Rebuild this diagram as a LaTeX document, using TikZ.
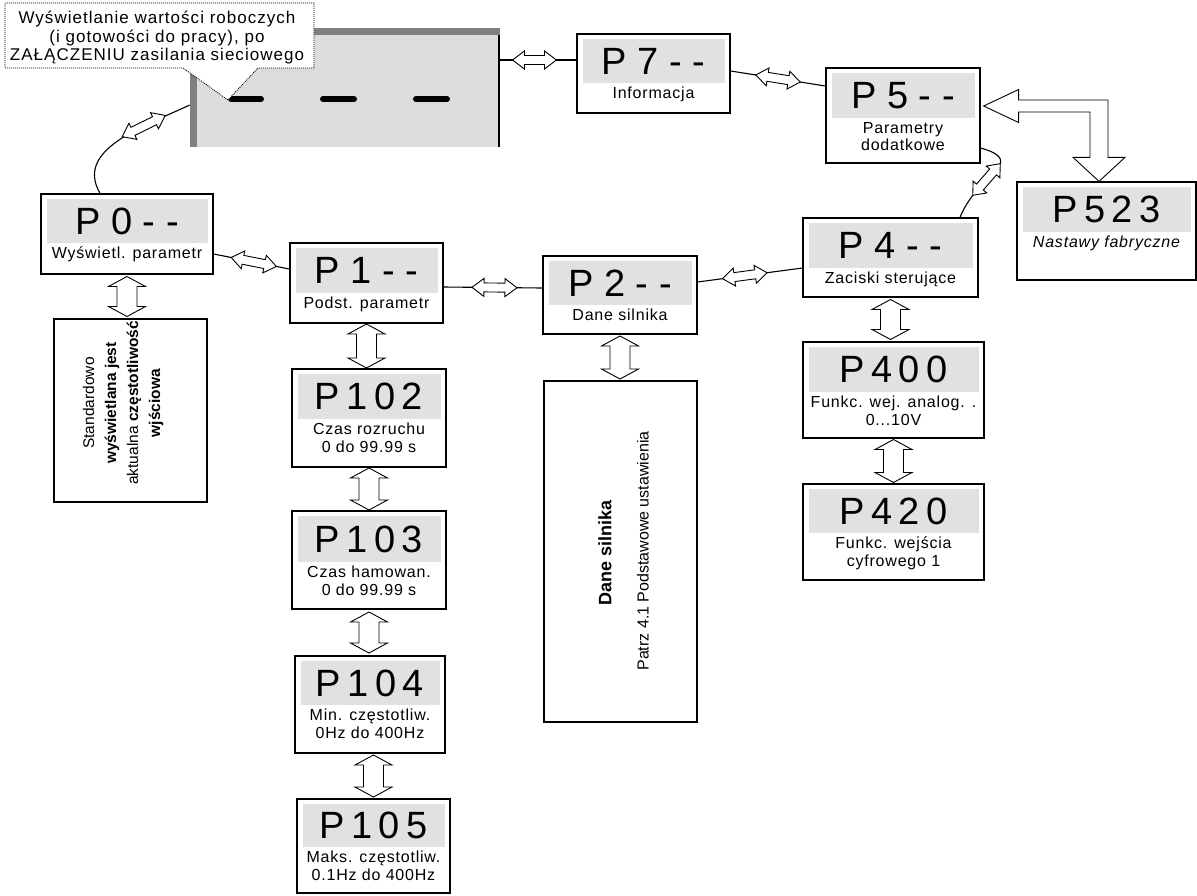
\documentclass[tikz,border=0pt]{standalone}
\usepackage{fontspec}
\setmainfont{Liberation Sans}
\newfontfamily\lsfont[LetterSpace=5]{Liberation Sans}
\newfontfamily\clfont[LetterSpace=6]{Liberation Sans}
\newfontfamily\bigA{Liberation Sans}
\newfontfamily\bigB[LetterSpace=17]{Liberation Sans}
\usetikzlibrary{calc,fit}
\definecolor{lg}{HTML}{E1E1E1}
\definecolor{dispg}{HTML}{DCDCDC}
\definecolor{dg}{HTML}{808080}
\tikzset{
 box/.style={draw, line width=1.3pt, inner sep=0pt},
 conn/.style={line width=1.1pt},
 lab/.style={font=\lsfont\fontsize{16}{17.5}\selectfont, align=center, inner sep=0pt},
 bigt/.style={font=\bigA\fontsize{38}{40}\selectfont, inner sep=0pt},
 pics/dbl/.style args={#1/#2/#3/#4}{code={
   \draw[line width=0.9pt, fill=white] (-#1/2,0) -- (-#1/2+#4,#3) -- (-#1/2+#4,#2) -- (#1/2-#4,#2) -- (#1/2-#4,#3) -- (#1/2,0) -- (#1/2-#4,-#3) -- (#1/2-#4,-#2) -- (-#1/2+#4,-#2) -- (-#1/2+#4,-#3) -- cycle;
 }},
}
\newcommand\pbox[8]{%
 \node[box, fit={(#2,#3) (#4,#5)}] (#1) {};
 \fill[lg] ({#2+5.5},{#3+5}) rectangle ({#4-5.5},#6);
 \node[bigt] (#1big) at ({(#2+#4)/2},{(#3+5+#6)/2}) {#7};
 \node[lab, anchor=north] (#1lab) at ({(#2+#4)/2},{#6+4}) {#8};}
\begin{document}
\begin{tikzpicture}[x=1pt,y=-1pt]
\useasboundingbox (0,0) rectangle (1197,895);
% display box
\node[inner sep=0pt, fit={(190,28) (500,147)}] (disp) {};
\fill[dispg] (190,28) rectangle (500,147);
\fill[dg] (190,28) rectangle (500,35);
\fill[dg] (190,28) rectangle (197,147);
\draw[line width=2.5pt] (499,35) -- (499,147);
\draw[line width=6pt, line cap=round] (231,99) -- (261,99);
\draw[line width=6pt, line cap=round] (323,99) -- (354,99);
\draw[line width=6pt, line cap=round] (416,99) -- (447,99);
% callout
\draw[dash pattern=on 1pt off 1pt, line width=0.8pt, fill=white] (5,3) -- (314,3) -- (314,68) -- (258,68) -- (228,100) -- (183,68) -- (5,68) -- cycle;
\node[font=\clfont\fontsize{17}{18.5}\selectfont, align=center, inner sep=0pt] (ct) at (157,38) {Wyświetlanie wartości roboczych\\(i gotowości do pracy), po\\ZAŁĄCZENIU zasilania sieciowego};
% boxes
\pbox{p7}{577}{34}{730}{113}{83}{P 7 - -}{Informacja}
\pbox{p5}{826}{68}{980}{163}{118}{P 5 - -}{Parametry\\dodatkowe}
\pbox{p523}{1017}{182}{1196}{280}{232}{\bigB P523}{\itshape Nastawy fabryczne}
\pbox{p0}{41}{194}{213}{274}{243}{P 0 - -}{Wyświetl. parametr}
\pbox{p1}{290}{243}{443}{323}{293}{P 1 - -}{Podst. parametr}
\pbox{p2}{543}{256}{697}{334}{305}{P 2 - -}{Dane silnika}
\pbox{p4}{803}{218}{978}{297}{268}{P 4 - -}{Zaciski sterujące}
\pbox{p400}{803}{342}{984}{438}{392}{\bigB P400}{Funkc. wej. analog. .\\0...10V}
\pbox{p420}{803}{484}{984}{580}{533}{\bigB P420}{Funkc. wejścia\\cyfrowego 1}
\pbox{p102}{292}{369}{446}{467}{419}{\bigB P102}{Czas rozruchu\\0 do 99.99 s}
\pbox{p103}{292}{511}{446}{609}{562}{\bigB P103}{Czas hamowan.\\0 do 99.99 s}
\pbox{p104}{295}{656}{445}{753}{705}{\bigB P104}{Min. częstotliw.\\0Hz do 400Hz}
\pbox{p105}{297}{799}{450}{893}{847}{\bigB P105}{Maks. częstotliw.\\0.1Hz do 400Hz}
% text boxes
\node[box, fit={(54,319) (207,502)}] (std) {};
\node[rotate=90, align=center, font=\fontsize{15.5}{22}\selectfont, inner sep=0pt] (stdt) at (123,403) {Standardowo\\\textbf{wyświetlana jest}\\aktualna \textbf{częstotliwość}\\\textbf{wjściowa}};
\node[box, fit={(544,381) (697,722)}] (tall) {};
\node[rotate=90, font=\bfseries\fontsize{18}{20}\selectfont, inner sep=0pt] (tallt1) at (605,553) {Dane silnika};
\node[rotate=90, font=\fontsize{16}{18}\selectfont, inner sep=0pt] (tallt2) at (643,551) {Patrz 4.1 Podstawowe ustawienia};
% connectors
\draw[conn] ([yshift=27.5pt]disp.east) -- ([yshift=13.5pt]p7.west);
\path ([yshift=27.5pt]disp.east) -- ([yshift=13.5pt]p7.west) pic[pos=.45,sloped]{dbl=44/4.5/9/12};
\draw[conn] ([yshift=2.5pt]p7.east) -- ([yshift=29.5pt]p5.west);
\path ([yshift=2.5pt]p7.east) -- ([yshift=29.5pt]p5.west) pic[pos=.5,sloped]{dbl=45/4.5/9/12};
\draw[conn] ([yshift=-20pt]p0.east) -- ([yshift=14pt]p1.west);
\path ([yshift=-20pt]p0.east) -- ([yshift=14pt]p1.west) pic[pos=.53,sloped]{dbl=46/4.5/9/12};
\draw[conn] ([yshift=-4pt]p1.east) -- ([yshift=7pt]p2.west);
\path ([yshift=-4pt]p1.east) -- ([yshift=7pt]p2.west) pic[pos=.515,sloped]{dbl=45/4.5/9/12};
\draw[conn] ([yshift=13pt]p2.east) -- ([yshift=-10.5pt]p4.west);
\path ([yshift=13pt]p2.east) -- ([yshift=-10.5pt]p4.west) pic[pos=.45,sloped]{dbl=45/4.5/9/12};
% display to P0 curve
\draw[conn] ([yshift=-17.5pt]disp.west) .. controls (140,128) and (75,150) .. ([xshift=-27pt]p0.north);
\path ([yshift=-17.5pt]disp.west) .. controls (140,128) and (75,150) .. ([xshift=-27pt]p0.north) pic[pos=.3,sloped]{dbl=48/4.5/9/12};
% P5 to P4
\coordinate (w1) at (1000,164);
\coordinate (w2) at (973,195);
\draw[conn] ([yshift=-32.5pt]p5.east) .. controls (995,152) and (1003,157) .. (w1) -- (w2) .. controls (967,203) and (963,210) .. ([xshift=69.5pt]p4.north);
\path (w1) -- (w2) pic[pos=.5,sloped]{dbl=42/4.5/9/11};
% big L arrow P5 - P523
\coordinate (a1) at ($(p5.east)+(3,-9.5)$);
\coordinate (a2) at ($(p523.north)+(-7.5,0)$);
\draw[line width=0.9pt, fill=white] (a1) -- ++(35,-16.5) -- ++(0,10.5) -- ($(a2|-a1)+(9,-6)$) -- ($(a2)+(9,-24)$) -- ++(17,0) -- (a2) -- ++(-26,-24) -- ++(17,0) -- ($(a2|-a1)+(-9,6)$) -- ($(a1)+(35,6)$) -- ++(0,10.5) -- cycle;
% vertical arrows
\path (p0.south) -- (p0.south |- std.north) pic[pos=.5,sloped]{dbl=40/10/18.5/10};
\path (p1.south) -- (p1.south |- p102.north) pic[pos=.5,sloped]{dbl=44/10/18.5/10};
\path (p102.south) -- (p102.south |- p103.north) pic[pos=.5,sloped]{dbl=42/10/18.5/10};
\path (p103.south) -- (p103.south |- p104.north) pic[pos=.5,sloped]{dbl=41/10/18.5/10};
\path (p105.north |- p104.south) -- (p105.north) pic[pos=.5,sloped]{dbl=42/10/18.5/10};
\path (p2.south) -- (p2.south |- tall.north) pic[pos=.5,sloped]{dbl=43/10/18.5/10};
\path (p4.south) -- (p4.south |- p400.north) pic[pos=.5,sloped]{dbl=40/10/18.5/10};
\path (p400.south) -- (p400.south |- p420.north) pic[pos=.5,sloped]{dbl=43/10/18.5/10};
\end{tikzpicture}
\end{document}
